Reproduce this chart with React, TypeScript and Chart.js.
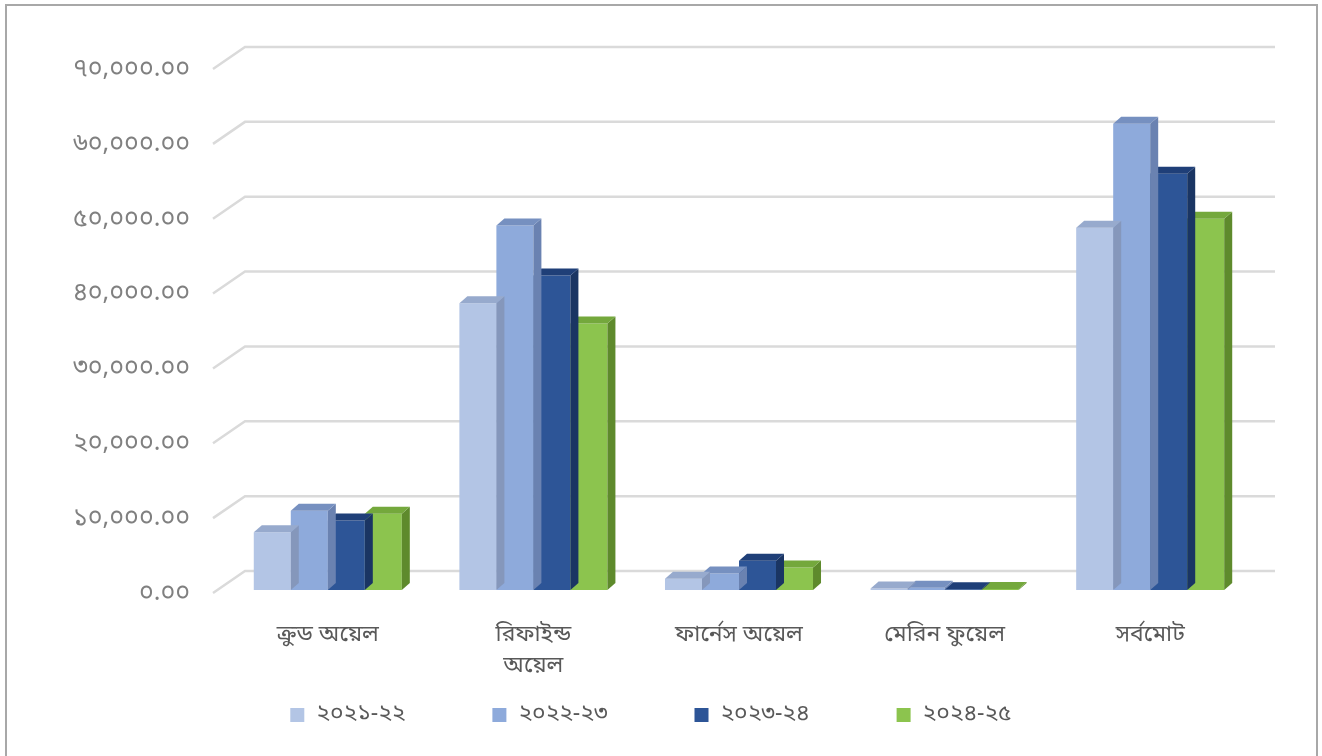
import React, { useEffect, useRef } from 'react';
import { Chart, registerables } from 'chart.js';

Chart.register(...registerables);

const categories: string[][] = [
  ['ক্রুড অয়েল'],
  ['রিফাইন্ড', 'অয়েল'],
  ['ফার্নেস অয়েল'],
  ['মেরিন ফুয়েল'],
  ['সর্বমোট'],
];

const seriesNames = ['২০২১-২২', '২০২২-২৩', '২০২৩-২৪', '২০২৪-২৫'];

const values2021_22 = [7700, 38300, 1500, 200, 48400];
const values2022_23 = [10600, 48700, 2200, 300, 62300];
const values2023_24 = [9300, 42000, 3900, 100, 55600];
const values2024_25 = [10200, 35600, 3000, 150, 49600];

const yTickLabels = [
  '০.০০',
  '১০,০০০.০০',
  '২০,০০০.০০',
  '৩০,০০০.০০',
  '৪০,০০০.০০',
  '৫০,০০০.০০',
  '৬০,০০০.০০',
  '৭০,০০০.০০',
];

const frontColors = ['#b3c5e5', '#8eaadb', '#2d5597', '#8cc44e'];
const topColors = ['#97aacd', '#7690c0', '#1f3f78', '#74a83c'];
const sideColors = ['#8597bb', '#6a82b1', '#1a3563', '#5e8a2c'];

const FONT = "'Noto Sans Bengali', 'Noto Serif Bengali', 'Lohit Bengali', 'FreeSerif', 'Noto Sans', sans-serif";

const BAR_DX = 8;
const BAR_DY = 7;
const GRID_DX = 32;
const GRID_DY = 22;

const threeDPlugin = {
  id: 'threeD',
  beforeDatasetsDraw(chart: any) {
    const { ctx, chartArea } = chart;
    const yScale = chart.scales.y;
    ctx.save();
    ctx.strokeStyle = '#dadada';
    ctx.lineWidth = 2.5;
    yScale.ticks.forEach((t: any) => {
      const y = yScale.getPixelForValue(t.value);
      ctx.beginPath();
      ctx.moveTo(chartArea.left - 12, y + 3);
      ctx.lineTo(chartArea.left - 12 + GRID_DX, y + 3 - GRID_DY);
      ctx.lineTo(chartArea.right + 22, y + 3 - GRID_DY);
      ctx.stroke();
    });
    ctx.restore();
  },
  afterDatasetDraw(chart: any, args: any) {
    const { ctx } = chart;
    const meta = args.meta;
    const idx = args.index;
    ctx.save();
    meta.data.forEach((bar: any) => {
      const { x, y, base, width } = bar.getProps(['x', 'y', 'base', 'width'], true);
      const l = x - width / 2;
      const r = x + width / 2;
      ctx.fillStyle = sideColors[idx];
      ctx.beginPath();
      ctx.moveTo(r, y);
      ctx.lineTo(r + BAR_DX, y - BAR_DY);
      ctx.lineTo(r + BAR_DX, base - BAR_DY);
      ctx.lineTo(r, base);
      ctx.closePath();
      ctx.fill();
      ctx.fillStyle = topColors[idx];
      ctx.beginPath();
      ctx.moveTo(l, y);
      ctx.lineTo(l + BAR_DX, y - BAR_DY);
      ctx.lineTo(r + BAR_DX, y - BAR_DY);
      ctx.lineTo(r, y);
      ctx.closePath();
      ctx.fill();
    });
    ctx.restore();
  },
};

const legendPlugin = {
  id: 'bottomLegend',
  afterDraw(chart: any) {
    const { ctx, chartArea } = chart;
    const box = 14;
    const boxGap = 12;
    const itemGap = 87;
    ctx.save();
    ctx.font = `23px ${FONT}`;
    ctx.textBaseline = 'middle';
    ctx.textAlign = 'left';
    const items = chart.data.datasets.map((ds: any, i: number) => ({
      text: ds.label as string,
      color: frontColors[i],
      w: box + boxGap + ctx.measureText(ds.label).width,
    }));
    const total = items.reduce((s: number, it: any) => s + it.w, 0) + itemGap * (items.length - 1);
    let x = chart.width / 2 - 10 - total / 2;
    const y = chartArea.bottom + 126;
    items.forEach((it: any) => {
      ctx.fillStyle = it.color;
      ctx.fillRect(x, y - box / 2 - 1, box, box);
      ctx.fillStyle = '#595959';
      ctx.fillText(it.text, x + box + boxGap, y);
      x += it.w + itemGap;
    });
    ctx.restore();
  },
};

export default function App() {
  const canvasRef = useRef<HTMLCanvasElement | null>(null);

  useEffect(() => {
    document.body.style.margin = '0';
    const canvas = canvasRef.current;
    if (!canvas) return;
    const seriesValues = [values2021_22, values2022_23, values2023_24, values2024_25];
    const chart = new Chart(canvas, {
      type: 'bar',
      data: {
        labels: categories,
        datasets: seriesNames.map((name, i) => ({
          label: name,
          data: seriesValues[i],
          backgroundColor: frontColors[i],
          borderWidth: 0,
          categoryPercentage: 0.72,
          barPercentage: 1,
        })),
      },
      options: {
        responsive: false,
        animation: false,
        devicePixelRatio: 1,
        layout: { padding: { top: 66, right: 69, bottom: 0, left: 0 } },
        plugins: {
          tooltip: { enabled: false },
          legend: { display: false },
        },
        scales: {
          x: {
            grid: { display: false },
            border: { display: false },
            ticks: {
              color: '#595959',
              font: { family: FONT, size: 23, lineHeight: 1.35 },
              padding: 23,
              maxRotation: 0,
              autoSkip: false,
            },
            afterFit(scale: any) {
              scale.height = 166;
            },
          },
          y: {
            min: 0,
            max: 70000,
            grid: { display: false },
            border: { display: false },
            ticks: {
              stepSize: 10000,
              color: '#808080',
              font: { family: FONT, size: 25 },
              padding: 27,
              labelOffset: 5,
              callback: (v: any) => yTickLabels[Math.round(Number(v) / 10000)],
            },
            afterFit(scale: any) {
              scale.width = 225;
            },
          },
        },
      },
      plugins: [threeDPlugin, legendPlugin],
    });
    return () => chart.destroy();
  }, []);

  return (
    <div style={{ position: 'relative', width: 1322, height: 756, overflow: 'hidden', background: '#fff' }}>
      <canvas ref={canvasRef} width={1322} height={756} style={{ display: 'block' }} />
      <div
        style={{
          position: 'absolute',
          left: 5,
          top: 4,
          width: 1313,
          height: 800,
          border: '2px solid #a8a8a8',
          boxSizing: 'border-box',
          pointerEvents: 'none',
        }}
      />
    </div>
  );
}
